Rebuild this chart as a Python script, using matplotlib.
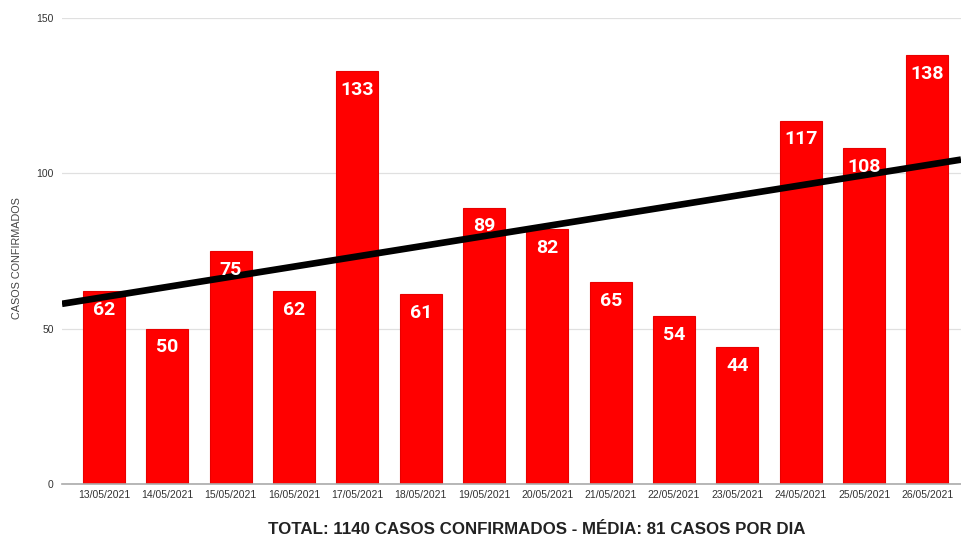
import numpy as np
import matplotlib.pyplot as plt

# daily confirmed cases
dates = ['13/05/2021', '14/05/2021', '15/05/2021', '16/05/2021', '17/05/2021',
         '18/05/2021', '19/05/2021', '20/05/2021', '21/05/2021', '22/05/2021',
         '23/05/2021', '24/05/2021', '25/05/2021', '26/05/2021']
casos = [62, 50, 75, 62, 133, 61, 89, 82, 65, 54, 44, 117, 108, 138]
y_ticks = [0, 50, 100, 150]

title = 'TOTAL: 1140 CASOS CONFIRMADOS - MÉDIA: 81 CASOS POR DIA'

fig = plt.figure(figsize=(9.61, 5.41), dpi=100)
ax = fig.add_axes([0.0645, 0.1054, 0.9355, 0.8613])

x = np.arange(len(casos))
ax.bar(x, casos, width=0.665, color='#ff0000', edgecolor='#e80000',
       linewidth=0.8, zorder=2)

# linear trend line over the whole axis width
xlim = (-0.665, 13.53)
coef = np.polyfit(x, casos, 1)
xt = np.array(xlim)
ax.plot(xt, np.polyval(coef, xt), color='black', lw=4.8, zorder=3,
        solid_capstyle='butt')

for xi, v in zip(x, casos):
    ax.annotate(str(v), (xi, v), xytext=(0, -7), textcoords='offset points',
                ha='center', va='top', color='white', fontsize=14,
                fontweight='bold', family='Roboto', zorder=4)

ax.set_xlim(*xlim)
ax.set_ylim(0, 150)
ax.set_yticks(y_ticks)
ax.set_xticks(x)
ax.set_xticklabels(dates)
ax.tick_params(axis='both', length=0, labelsize=7.5, labelcolor='#333333',
               labelfontfamily='Liberation Sans')
ax.tick_params(axis='x', pad=4)
ax.tick_params(axis='y', pad=6)
ax.grid(axis='y', color='#e0e0e0', lw=0.9, zorder=0)
for s in ['top', 'right', 'left']:
    ax.spines[s].set_visible(False)
ax.spines['bottom'].set_color('#aaaaaa')
ax.spines['bottom'].set_linewidth(1.2)

fig.text(0.018, 0.523, 'CASOS CONFIRMADOS', rotation=90, ha='center', va='center',
         fontsize=7.8, color='#444444', family='Liberation Sans')
fig.text(0.559, 0.008, title, ha='center', va='bottom', fontsize=12.2,
         fontweight='bold', color='#222222', family='Liberation Sans')

fig.savefig('out.png', dpi=100)
